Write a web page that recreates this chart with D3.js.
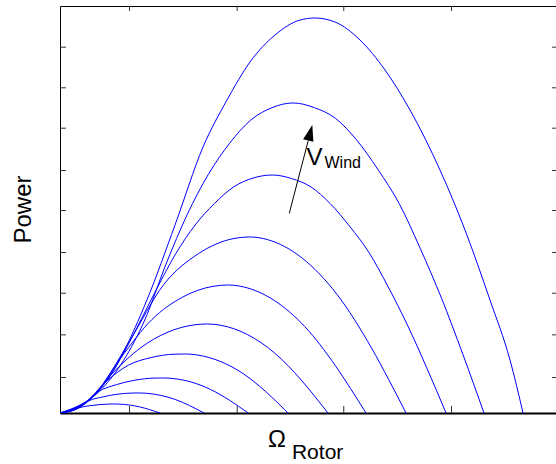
<!DOCTYPE html>
<html>
<head>
<meta charset="utf-8">
<script src="https://cdn.jsdelivr.net/npm/d3@7"></script>
<style>
  body { margin: 0; background: #fff; }
  text { font-family: "Liberation Sans", Arial, sans-serif; }
</style>
</head>
<body>
<svg width="556" height="464"></svg>
<script>
// rotor speed [omega, power] pairs, one list per wind speed (lowest first)
const powerCurves = [
  [[0,0],[1.0,0.15],[2.0,0.54],[3.0,0.72],[4.0,0.83],[5.0,0.88],[5.5,0.885],[6.0,0.87],[7.0,0.78],[8.0,0.60],[9.0,0.33],[9.5,0.17],[10.04,0]],
  [[0,0],[1.45,0.30],[2.89,1.20],[4.34,1.59],[5.78,1.85],[7.23,1.96],[7.95,1.97],[8.68,1.94],[10.12,1.73],[11.57,1.33],[13.01,0.73],[13.74,0.37],[14.46,0]],
  [[0,0],[1.89,0.52],[3.78,2.07],[5.66,2.79],[7.55,3.23],[9.44,3.43],[10.38,3.44],[11.33,3.39],[13.22,3.03],[15.10,2.32],[16.99,1.27],[17.94,0.65],[18.88,0]],
  [[0,0],[2.29,0.76],[4.58,3.05],[6.87,4.70],[9.16,5.45],[11.45,5.78],[12.59,5.80],[13.73,5.71],[16.02,5.10],[18.31,3.92],[20.60,2.15],[21.75,1.10],[22.89,0]],
  [[0,0],[2.69,1.05],[5.38,4.02],[8.07,6.39],[10.76,7.92],[13.46,8.66],[14.80,8.75],[16.15,8.62],[18.84,7.70],[21.53,5.91],[24.22,3.24],[25.56,1.66],[26.91,0]],
  [[0,0],[3.07,1.37],[6.14,5.48],[9.22,9.18],[12.29,11.38],[15.36,12.45],[16.90,12.58],[18.43,12.39],[21.50,11.07],[24.58,8.49],[27.65,4.65],[29.18,2.39],[30.72,0]],
  [[0,0],[3.47,1.75],[6.95,7.01],[10.42,12.63],[13.90,15.66],[17.37,17.13],[19.11,17.30],[20.84,17.04],[24.32,15.22],[27.79,11.68],[31.27,6.40],[33.00,3.29],[34.74,0]],
  [[0,0],[3.88,2.18],[5.81,4.90],[7.75,8.42],[9.69,12.17],[11.63,15.67],[13.57,18.48],[15.50,20.58],[17.44,22.22],[19.38,23.09],[21.32,23.39],[23.26,23.04],[25.19,22.22],[27.13,20.58],[29.07,18.36],[31.01,15.79],[32.95,12.40],[34.88,8.65],[36.82,4.44],[38.76,0]],
  [[0,0],[4.26,2.44],[6.39,5.18],[8.51,9.14],[10.64,14.62],[12.77,19.50],[14.90,23.46],[17.03,26.51],[19.16,28.79],[21.29,30.01],[23.41,30.47],[25.54,30.01],[27.67,28.95],[29.80,26.81],[31.93,23.92],[34.06,20.57],[36.18,16.15],[38.31,11.27],[40.44,5.79],[42.57,0]],
  [[0,0],[1.31,0.40],[3.01,1.40],[4.02,2.40],[5.02,3.60],[6.33,5.90],[8.73,11.11],[11.55,18.48],[14.36,26.14],[16.77,30.76],[19.08,34.50],[21.59,37.15],[24.10,38.62],[25.60,38.82],[27.61,38.43],[30.12,36.66],[32.63,33.71],[35.14,29.78],[38.15,23.88],[40.66,17.99],[43.17,11.11],[45.18,5.21],[46.49,0]]
];

const xDomain = [0, 50];
const yDomain = [0, 40];
const xTicks = [6.93, 17.74, 28.44, 39.26];
const yTicks = [3.54, 7.73, 11.82, 15.82, 19.95, 23.88, 28.04, 32.01, 36.0];

// wind speed arrow: tail, tip and label anchor in data units
const arrowTail = [23.02, 19.63];
const arrowTip = [25.33, 28.30];
const labelAt = [24.75, 24.37];

const plotLeft = 60, plotRight = 558, plotTop = 6, plotBottom = 413;

const x = d3.scaleLinear().domain(xDomain).range([plotLeft, plotRight]);
const y = d3.scaleLinear().domain(yDomain).range([plotBottom, plotTop]);

const svg = d3.select('svg');

svg.append('defs').append('clipPath').attr('id', 'plot')
  .append('rect')
  .attr('x', plotLeft).attr('y', plotTop)
  .attr('width', plotRight - plotLeft).attr('height', plotBottom - plotTop);

// ticks point inwards on all four sides
const tickLen = 6;
svg.append('g')
  .attr('transform', `translate(0,${plotBottom})`)
  .call(d3.axisBottom(x).tickValues(xTicks).tickFormat('').tickSizeInner(-7).tickSizeOuter(0))
  .call(g => g.select('.domain').attr('stroke-width', 2));
svg.append('g')
  .attr('transform', `translate(0,${plotTop})`)
  .call(d3.axisTop(x).tickValues(xTicks).tickFormat('').tickSizeInner(-5).tickSizeOuter(0));
svg.append('g')
  .attr('transform', `translate(${plotLeft},0)`)
  .call(d3.axisLeft(y).tickValues(yTicks).tickFormat('').tickSizeInner(-tickLen).tickSizeOuter(0));
svg.append('g')
  .attr('transform', `translate(${plotRight},0)`)
  .call(d3.axisRight(y).tickValues(yTicks).tickFormat('').tickSizeInner(-tickLen).tickSizeOuter(0));

svg.selectAll('.tick line').attr('stroke', '#333');

const line = d3.line()
  .x(d => x(d[0]))
  .y(d => y(d[1]))
  .curve(d3.curveMonotoneX);

svg.append('g')
  .attr('clip-path', 'url(#plot)')
  .selectAll('path')
  .data(powerCurves)
  .join('path')
  .attr('d', line)
  .attr('fill', 'none')
  .attr('stroke', '#0000ff')
  .attr('stroke-width', 1);

// arrow
const tx = x(arrowTail[0]), ty = y(arrowTail[1]);
const hx = x(arrowTip[0]), hy = y(arrowTip[1]);
const len = Math.hypot(hx - tx, hy - ty);
const ux = (hx - tx) / len, uy = (hy - ty) / len;
const headLen = 16, headHalf = 5.3;
const bx = hx - ux * headLen, by = hy - uy * headLen;

svg.append('line')
  .attr('x1', tx).attr('y1', ty)
  .attr('x2', bx).attr('y2', by)
  .attr('stroke', '#000').attr('stroke-width', 1);
svg.append('path')
  .attr('d', `M${hx},${hy}L${bx - uy * headHalf},${by + ux * headHalf}L${bx + uy * headHalf},${by - ux * headHalf}Z`)
  .attr('fill', '#000');

const vLabel = svg.append('text')
  .attr('x', x(labelAt[0])).attr('y', y(labelAt[1]));
vLabel.append('tspan').attr('font-size', 24).text('V');
vLabel.append('tspan').attr('font-size', 16).attr('dx', 2).attr('dy', 3).text('Wind');

// axis labels
const xLabel = svg.append('text')
  .attr('x', 268).attr('y', 447);
xLabel.append('tspan').attr('font-size', 24).text('Ω');
xLabel.append('tspan').attr('font-size', 21).attr('dx', 6).attr('dy', 12).text('Rotor');

svg.append('text')
  .attr('transform', `translate(31,${(plotTop + plotBottom) / 2}) rotate(-90)`)
  .attr('text-anchor', 'middle')
  .attr('font-size', 24)
  .text('Power');
</script>
</body>
</html>
